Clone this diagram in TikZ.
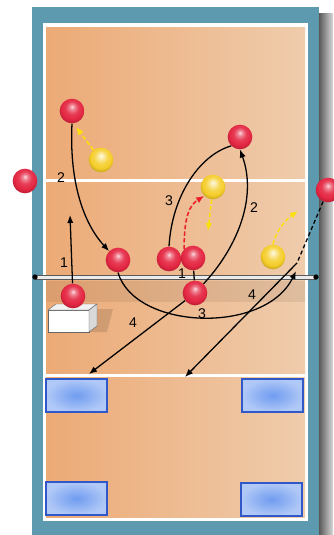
\documentclass[tikz,border=0pt]{standalone}
\usepackage{fontspec}
\setmainfont{Liberation Sans}
\usetikzlibrary{positioning, arrows.meta, calc, shadows}
\definecolor{cFrame}{RGB}{94,154,175}
\definecolor{cCourtL}{RGB}{236,170,118}
\definecolor{cCourtR}{RGB}{239,204,172}
\definecolor{cRed}{RGB}{228,38,66}
\definecolor{cYel}{RGB}{245,205,40}
\definecolor{cPass}{RGB}{252,224,10}
\definecolor{cHit}{RGB}{235,30,40}
\definecolor{cZone}{RGB}{112,156,240}
\definecolor{cZoneLine}{RGB}{48,88,200}
\pgfdeclareradialshading{redglass}{\pgfqpoint{0bp}{9bp}}{color(0bp)=(white!85!cRed); color(5bp)=(cRed!55!white); color(13bp)=(cRed!90!white); color(22bp)=(cRed); color(27bp)=(cRed!85!black); color(50bp)=(cRed!85!black)}
\pgfdeclareradialshading{yellowglass}{\pgfqpoint{0bp}{9bp}}{color(0bp)=(white!90!cYel); color(6bp)=(cYel!45!white); color(14bp)=(cYel!85!white); color(22bp)=(cYel); color(27bp)=(cYel!85!black); color(50bp)=(cYel!85!black)}
\pgfdeclarelayer{court}
\pgfdeclarelayer{paths}
\pgfsetlayers{court,paths,main}
\tikzset{
    player/.style={circle, minimum size=7.4mm, inner sep=0pt, shading=redglass},
    ballmark/.style={circle, minimum size=7.4mm, inner sep=0pt, shading=yellowglass},
    zone/.style={rectangle, minimum width=18.3mm, minimum height=9.9mm, inner sep=0pt,
        draw=cZoneLine, line width=0.9pt, inner color=cZone, outer color=cZone!55!white,
        drop shadow={shadow xshift=0.7pt, shadow yshift=-0.7pt, opacity=.4}},
    move/.style={line width=1.1pt, -{Latex[length=2.4mm,width=1.9mm]}},
    pass/.style={cPass, line width=1.3pt, dash pattern=on 1.3mm off 0.7mm, -{Latex[length=2.4mm,width=2mm]}},
    num/.style={font=\large, inner sep=0pt}
}

\begin{document}
\begin{tikzpicture}[x=0.03cm, y=-0.03cm]
    \useasboundingbox (0,0) rectangle (333,535);

    % Court
    \begin{pgfonlayer}{court}
        \fill[left color=black!65, right color=black!15] (319,14) rectangle (333,540);
        \fill[cFrame] (32,7) rectangle (319,540);
        \fill[white] (43,23) rectangle (308,521);
        \fill[left color=cCourtL, right color=cCourtR] (46,28) rectangle (305,517);
        \fill[white] (46,178.5) rectangle (305,181.5);
        \fill[white] (46,373.5) rectangle (305,376.5);

        % Net and its shadow
        \fill[black, opacity=0.07] (46,281) rectangle (305,302);
        \fill[black!8] (35,275) rectangle (316,279);
        \draw[black!65, line width=0.6pt] (35,275) -- (316,275) (35,279) -- (316,279);
        \fill (35,277) circle (0.8mm);
        \fill (316,277) circle (0.8mm);

        % Box
        \fill[black, opacity=.12] (97,309) -- (113,309) -- (107,332) -- (89,332) -- cycle;
        \draw[black!60, fill=white] (48,310) rectangle (89,332);
        \draw[black!60, fill=black!5] (48,310) -- (56,304) -- (97,304) -- (89,310) -- cycle;
        \draw[black!60, fill=black!15] (89,310) -- (97,304) -- (97,326) -- (89,332) -- cycle;
    \end{pgfonlayer}

    % Zones
    \node[zone] (zoneA) at (76.5,395.5) {};
    \node[zone] (zoneB) at (272.5,395.5) {};
    \node[zone] (zoneC) at (76.5,498.5) {};
    \node[zone] (zoneD) at (271.5,499.5) {};

    % Players
    \node[player] (topL) at (72,111) {};
    \node[player] (topR) at (240,137) {};
    \node[player] (sideL) at (25,181) {};
    \node[player] (sideR) at (328,190) {};
    \node[player] (hitL) at (118,260) {};
    \node[player] (hitM) at (169,259) {};
    \node[player] (hitR) at (193,258) {};
    \node[player] (baseL) at (73,296) {};
    \node[player] (blockM) at (195,293) {};

    % Balls
    \node[ballmark] (yTop) at (101,160) {};
    \node[ballmark] (yMid) at (213,187) {};
    \node[ballmark] (yRight) at (273,257) {};

    % Free ends
    \coordinate (up1) at (70,215);
    \coordinate (arr3) at (296,271);
    \coordinate (hit) at (297,263);
    \coordinate (tip4L) at (89,374);
    \coordinate (tip4R) at (185,377);
    \coordinate (yTip) at (76,127);
    \coordinate (ySink) at (208,231);
    \coordinate (yArc) at (298,211);

    \begin{pgfonlayer}{paths}
        % Moves
        \draw[move] (baseL) -- (up1);
        \draw[move] (topL.south) .. controls (69,185) and (85,225) .. (hitL.north west);
        \draw[line width=1.1pt] (hitM.north) .. controls (172,195) and (200,155) .. (topR.south west);
        \draw[move] (blockM) .. controls (235,250) and (258,200) .. (topR.south);
        \draw[line width=1.1pt] (blockM) -- (hitR);
        \draw[move] (hitL.south) .. controls (135,330) and (265,335) .. (arr3);
        \draw[move] (blockM) -- (tip4L);
        \draw[line width=1.1pt, dash pattern=on 1.2mm off 0.8mm] (sideR) -- (hit);
        \draw[move] (hit) -- (tip4R);

        % Passes
        \draw[pass] (yTop) -- (yTip);
        \draw[pass] (yMid) -- (ySink);
        \draw[pass] (yRight.north) .. controls (277,228) and (288,218) .. (yArc);
        \draw[pass, cHit] (hitR.north west) .. controls (184,215) and (190,205) .. (yMid.south west);
    \end{pgfonlayer}

    % Numbers
    \node[num] (n1L) at (64,263) {1};
    \node[num] (n2L) at (61,178) {2};
    \node[num] (n3T) at (169,201) {3};
    \node[num] (n2R) at (254,208) {2};
    \node[num] (n1M) at (182,274) {1};
    \node[num] (n4L) at (133,323) {4};
    \node[num] (n3B) at (202,314) {3};
    \node[num] (n4R) at (252,295) {4};
\end{tikzpicture}
\end{document}
